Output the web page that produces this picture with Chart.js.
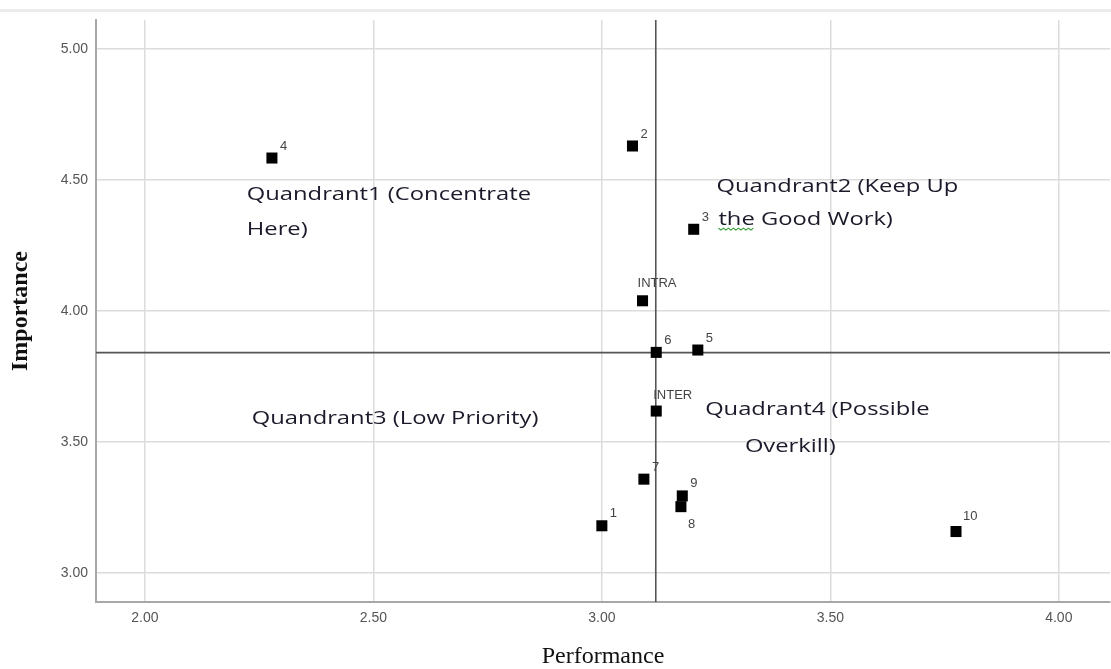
<!DOCTYPE html>
<html>
<head>
<meta charset="utf-8">
<script src="https://cdn.jsdelivr.net/npm/chart.js@4.4.1/dist/chart.umd.min.js"></script>
<style>
html,body{margin:0;padding:0;background:#fff;}
#wrap{width:1111px;height:669px;position:relative;}
</style>
</head>
<body>
<div id="wrap"><canvas id="c" width="1111" height="669"></canvas></div>
<script>
// ---- data ----
const pointLabels = ['1', '2', '3', '4', '5', '6', '7', '8', '9', '10', 'INTRA', 'INTER'];
const performance = [3.000, 3.067, 3.201, 2.278, 3.210, 3.119, 3.092, 3.173, 3.176, 3.775, 3.089, 3.119];
const importance  = [3.180, 4.630, 4.312, 4.584, 3.851, 3.842, 3.358, 3.253, 3.294, 3.158, 4.039, 3.618];
const meanPerformance = 3.118;
const meanImportance = 3.841;
const xTicks = [2.00, 2.50, 3.00, 3.50, 4.00];
const yTicks = [3.00, 3.50, 4.00, 4.50, 5.00];
const xTitle = 'Performance';
const yTitle = 'Importance';
const quadrantLines = [
  'Quandrant1 (Concentrate', 'Here)',
  'Quandrant2 (Keep Up', 'the Good Work)',
  'Quandrant3 (Low Priority)',
  'Quadrant4 (Possible', 'Overkill)'
];

// ---- layout (not data) ----
const X_MIN = 1.893, X_MAX = 4.112, Y_MIN = 2.889, Y_MAX = 5.111;
// anchor (left, baseline) of each quadrant text line, in axis units
const quadrantAnchors = [
  [2.223, 4.424], [2.223, 4.290],
  [3.251, 4.453], [3.255, 4.328],
  [2.234, 3.569],
  [3.226, 3.603], [3.313, 3.463]
];

const points = performance.map((p, i) => ({x: p, y: importance[i]}));

const decor = {
  id: 'decor',
  beforeDraw(chart) {
    const ctx = chart.ctx;
    ctx.save();
    ctx.fillStyle = '#ffffff';
    ctx.fillRect(0, 0, chart.width, chart.height);
    ctx.fillStyle = '#ececec';
    ctx.fillRect(0, 9, chart.width, 3);
    ctx.restore();
  },
  afterDatasetsDraw(chart) {
    const ctx = chart.ctx;
    const xs = chart.scales.x, ys = chart.scales.y;
    ctx.save();
    // point labels
    ctx.font = '13px "Liberation Sans", Arial, sans-serif';
    ctx.fillStyle = '#444';
    ctx.textBaseline = 'middle';
    ctx.textAlign = 'left';
    pointLabels.forEach((lab, i) => {
      const px = xs.getPixelForValue(performance[i]);
      const py = ys.getPixelForValue(importance[i]);
      let dx = 8, dy = -12;
      if (lab === 'INTRA') { dx = -5; dy = -17; }
      else if (lab === 'INTER') { dx = -3; dy = -16; }
      else if (lab === '8') { dx = 7; dy = 18; }
      else if (lab === '10') { dx = 7; dy = -15; }
      ctx.fillText(lab, px + dx, py + dy);
    });
    // quadrant annotations
    ctx.font = '19px "Open Sans", sans-serif';
    ctx.fillStyle = '#1a1a2a';
    ctx.textBaseline = 'alphabetic';
    const sx = 1.25;
    quadrantLines.forEach((t, i) => {
      const ax = xs.getPixelForValue(quadrantAnchors[i][0]);
      const ay = ys.getPixelForValue(quadrantAnchors[i][1]);
      ctx.save();
      ctx.translate(ax, ay);
      ctx.scale(sx, 1);
      ctx.fillText(t, 0, 0);
      if (t === 'the Good Work)') {
        const w = ctx.measureText('the').width;
        ctx.strokeStyle = '#3aa03a';
        ctx.lineWidth = 1;
        ctx.beginPath();
        let up = true;
        for (let xx = 0; xx <= w; xx += 2) {
          const yy = up ? 3 : 5;
          if (xx === 0) ctx.moveTo(xx, yy); else ctx.lineTo(xx, yy);
          up = !up;
        }
        ctx.stroke();
      }
      ctx.restore();
    });
    ctx.restore();
  }
};

const tickFont = {family: '"Liberation Sans", Arial, sans-serif', size: 14};

new Chart(document.getElementById('c'), {
  type: 'scatter',
  data: {
    datasets: [
      {
        label: 'items',
        data: points,
        pointStyle: 'rect',
        pointRadius: 7.8,
        pointHoverRadius: 7.8,
        backgroundColor: '#000',
        borderColor: '#000',
        borderWidth: 0,
        order: 0
      },
      {
        label: 'mean performance',
        data: [{x: meanPerformance, y: Y_MIN}, {x: meanPerformance, y: Y_MAX}],
        showLine: true,
        borderColor: '#555',
        borderWidth: 1.6,
        pointRadius: 0,
        order: 1
      },
      {
        label: 'mean importance',
        data: [{x: X_MIN, y: meanImportance}, {x: X_MAX, y: meanImportance}],
        showLine: true,
        borderColor: '#555',
        borderWidth: 1.6,
        pointRadius: 0,
        order: 1
      }
    ]
  },
  options: {
    responsive: false,
    animation: false,
    devicePixelRatio: 1,
    layout: {autoPadding: false, padding: {top: 20, right: 1, left: 0, bottom: 0}},
    plugins: {legend: {display: false}, tooltip: {enabled: false}},
    scales: {
      x: {
        type: 'linear',
        min: X_MIN,
        max: X_MAX,
        afterBuildTicks(s) { s.ticks = xTicks.map(v => ({value: v})); },
        afterFit(s) { s.height = 67; s.paddingLeft = 0; s.paddingRight = 0; },
        ticks: {
          callback: v => Number(v).toFixed(2),
          font: tickFont,
          color: '#555',
          padding: 8,
          maxRotation: 0,
          autoSkip: false
        },
        grid: {color: '#dcdcdc', lineWidth: 1.5, drawTicks: false},
        border: {color: '#a8a8a8', width: 2},
        title: {
          display: true,
          text: xTitle,
          font: {family: '"Liberation Serif", "Times New Roman", serif', size: 24, lineHeight: 1},
          color: '#111',
          padding: {top: 0, bottom: 0}
        }
      },
      y: {
        type: 'linear',
        min: Y_MIN,
        max: Y_MAX,
        afterBuildTicks(s) { s.ticks = yTicks.map(v => ({value: v})); },
        afterFit(s) { s.width = 96; s.paddingTop = 0; s.paddingBottom = 0; },
        ticks: {
          callback: v => Number(v).toFixed(2),
          font: tickFont,
          color: '#555',
          padding: 8,
          autoSkip: false
        },
        grid: {color: '#dcdcdc', lineWidth: 1.5, drawTicks: false},
        border: {color: '#a8a8a8', width: 2},
        title: {
          display: true,
          text: yTitle,
          font: {family: '"Liberation Serif", "Times New Roman", serif', size: 24, weight: 'bold', lineHeight: 1},
          color: '#111',
          padding: {top: 9, bottom: 0}
        }
      }
    }
  },
  plugins: [decor]
});
</script>
</body>
</html>
